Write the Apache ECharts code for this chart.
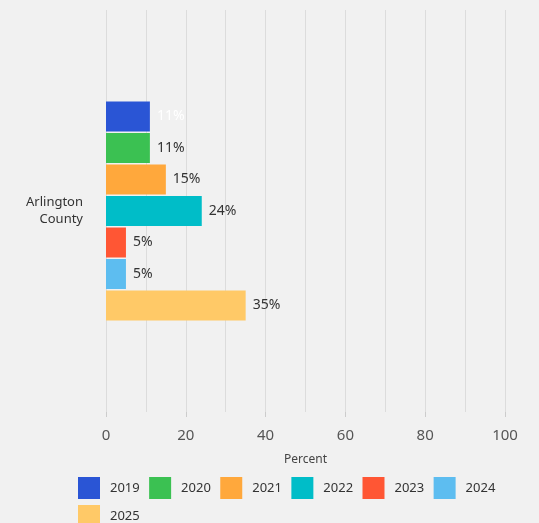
<!DOCTYPE html>
<html>
<head>
<meta charset="utf-8">
<script src="https://cdn.jsdelivr.net/npm/echarts@6/dist/echarts.min.js"></script>
<style>
  html, body { margin: 0; padding: 0; background: #f1f1f1; }
  #chart { width: 539px; height: 523px; }
</style>
</head>
<body>
<div id="chart"></div>
<script>
// Share of responses by year for one county
const categories = ['Arlington\nCounty'];
const years = ['2019', '2020', '2021', '2022', '2023', '2024', '2025'];
const values = [11, 11, 15, 24, 5, 5, 35];
const colors = ['#2a55d5', '#3bc152', '#ffa83c', '#00bdc8', '#ff5634', '#5dbdf0', '#ffc967'];
const labelColors = ['#ffffff', '#333333', '#333333', '#333333', '#333333', '#333333', '#333333'];
const xTicks = [0, 20, 40, 60, 80, 100];

const font = 'Noto Sans';

const series = years.map((y, i) => ({
  name: y,
  type: 'bar',
  data: [values[i]],
  barWidth: 30,
  barGap: '5%',
  itemStyle: { color: colors[i] },
  label: {
    show: true,
    position: 'right',
    distance: 7,
    formatter: '{c}%',
    color: labelColors[i],
    fontFamily: font,
    fontSize: 14
  }
}));

const chart = echarts.init(document.getElementById('chart'), null, { renderer: 'canvas' });
chart.setOption({
  backgroundColor: '#f1f1f1',
  animation: false,
  textStyle: { fontFamily: font },
  grid: { left: 106, right: 34, top: 10, bottom: 111, containLabel: false },
  xAxis: {
    type: 'value',
    min: xTicks[0],
    max: xTicks[xTicks.length - 1],
    interval: 20,
    name: 'Percent',
    nameLocation: 'middle',
    nameGap: 42,
    nameTextStyle: { color: '#444', fontSize: 12, fontFamily: font },
    axisLine: { show: false },
    axisTick: { show: true, length: 5, lineStyle: { color: '#cccccc' } },
    axisLabel: { color: '#555', fontSize: 15, margin: 16, fontFamily: font },
    splitLine: { show: true, lineStyle: { color: '#dcdcdc', width: 1 } },
    minorTick: { show: false, splitNumber: 2 },
    minorSplitLine: { show: true, lineStyle: { color: '#dcdcdc', width: 1 } }
  },
  yAxis: {
    type: 'category',
    data: categories,
    inverse: true,
    axisLine: { show: false },
    axisTick: { show: false },
    axisLabel: { color: '#333', fontSize: 13, margin: 23, lineHeight: 17, fontFamily: font }
  },
  legend: {
    data: years,
    left: 78,
    top: 477,
    width: 440,
    padding: 0,
    itemWidth: 22,
    itemHeight: 22,
    itemGap: 6,
    icon: 'rect',
    formatter: name => name + ' ',
    textStyle: { color: '#333', fontSize: 13, fontFamily: font, padding: [0, 0, 0, 5] }
  },
  series: series
});
</script>
</body>
</html>
